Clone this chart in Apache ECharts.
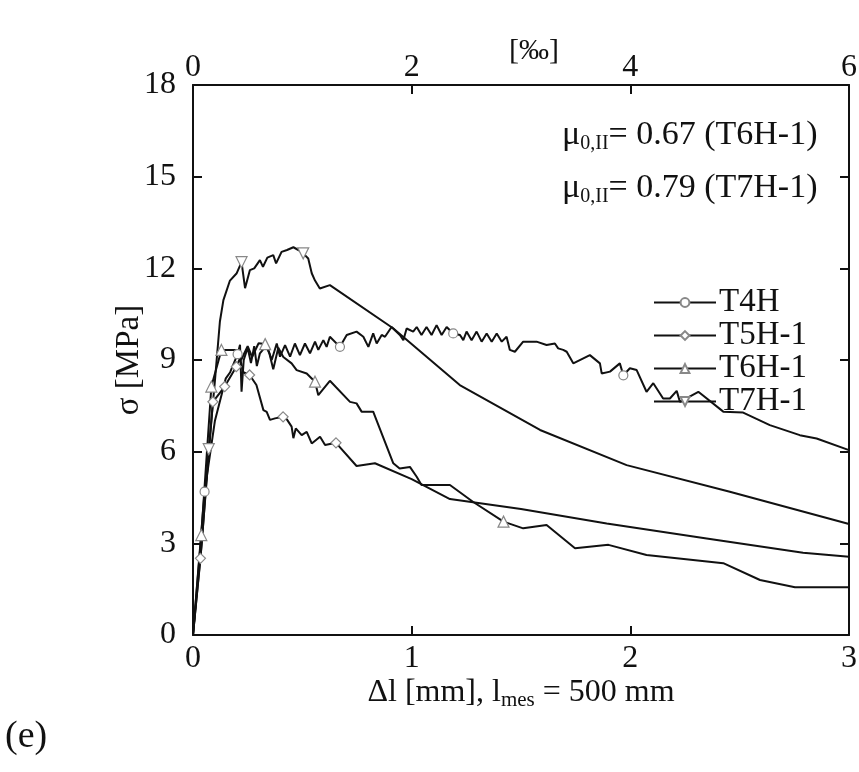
<!DOCTYPE html>
<html>
<head>
<meta charset="utf-8">
<script src="https://cdn.jsdelivr.net/npm/echarts@6/dist/echarts.min.js"></script>
<style>html,body{margin:0;padding:0;background:#fff}#c{width:859px;height:772px}</style>
</head>
<body>
<div id="c"></div>
<script>
// ---- data (Δl [mm], σ [MPa]) ----
const seriesNames = ['T4H', 'T5H-1', 'T6H-1', 'T7H-1'];
const xTicksBottom = [0, 1, 2, 3];
const xTicksTop = [0, 2, 4, 6];
const yTicks = [0, 3, 6, 9, 12, 15, 18];

const t4hX = [0, 0.053, 0.10, 0.15, 0.17, 0.204, 0.215, 0.222, 0.232, 0.25,
  0.265, 0.28, 0.292, 0.306, 0.337, 0.36, 0.383, 0.398, 0.421, 0.444,
  0.466, 0.489, 0.512, 0.535, 0.558, 0.573, 0.596, 0.611, 0.626, 0.672,
  0.703, 0.748, 0.779, 0.802, 0.824, 0.84, 0.863, 0.878, 0.908, 0.946,
  0.962, 0.977, 1.007, 1.023, 1.045, 1.068, 1.091, 1.114, 1.137, 1.16,
  1.19, 1.221, 1.236, 1.251, 1.274, 1.297, 1.32, 1.343, 1.366, 1.389,
  1.412, 1.434, 1.449, 1.472, 1.51, 1.571, 1.617, 1.655, 1.67, 1.693,
  1.709, 1.739, 1.815, 1.861, 1.869, 1.907, 1.952, 1.968, 1.998, 2.029,
  2.074, 2.105, 2.15, 2.181, 2.212, 2.227, 2.311, 2.425, 2.516, 2.638,
  2.775, 2.852, 3.0];
const t4hY = [0, 4.69, 7.0, 8.4, 8.6, 9.19, 9.5, 7.96, 9.0, 9.4,
  8.9, 9.45, 8.8, 9.22, 9.49, 9.0, 9.54, 9.11, 9.49, 9.11,
  9.54, 9.16, 9.54, 9.22, 9.6, 9.33, 9.65, 9.43, 9.76, 9.43,
  9.82, 9.93, 9.76, 9.43, 9.87, 9.54, 9.82, 9.76, 10.08, 9.82,
  9.65, 10.03, 9.93, 10.08, 9.82, 10.08, 9.82, 10.14, 9.82, 10.08,
  9.87, 9.82, 9.65, 9.93, 9.65, 9.93, 9.6, 9.87, 9.6, 9.87,
  9.6, 9.76, 9.33, 9.27, 9.6, 9.6, 9.49, 9.54, 9.38, 9.33,
  9.27, 8.89, 9.16, 8.89, 8.56, 8.62, 8.89, 8.5, 8.73, 8.67,
  7.96, 8.24, 7.74, 7.74, 7.99, 7.63, 7.96, 7.31, 7.28, 6.87,
  6.54, 6.43, 6.05];
const t4hMarkX = [0.053, 0.204, 0.672, 1.19, 1.968];

const t5hX = [0, 0.034, 0.091, 0.145, 0.198, 0.215, 0.23, 0.259, 0.29, 0.322,
  0.337, 0.352, 0.375, 0.412, 0.43, 0.451, 0.459, 0.47, 0.497, 0.52,
  0.543, 0.581, 0.604, 0.654, 0.748, 0.832, 1.0, 1.175, 1.5, 1.892,
  2.349, 2.79, 3.0];
const t5hY = [0, 2.51, 7.63, 8.13, 8.78, 9.05, 8.6, 8.51, 8.18, 7.36,
  7.3, 7.04, 7.09, 7.14, 7.05, 6.82, 6.44, 6.76, 6.54, 6.65,
  6.27, 6.49, 6.22, 6.29, 5.53, 5.62, 5.1, 4.45, 4.12, 3.65,
  3.16, 2.69, 2.56];
const t5hMarkX = [0.034, 0.091, 0.145, 0.198, 0.259, 0.412, 0.654];

const t6hX = [0, 0.038, 0.084, 0.13, 0.2, 0.22, 0.25, 0.27, 0.3, 0.33,
  0.35, 0.367, 0.39, 0.413, 0.451, 0.474, 0.52, 0.558, 0.573, 0.626,
  0.718, 0.748, 0.771, 0.824, 0.916, 0.945, 0.992, 1.023, 1.045, 1.175,
  1.28, 1.42, 1.51, 1.617, 1.747, 1.9, 2.074, 2.425, 2.593, 2.753, 3.0];
const t6hY = [0, 3.27, 8.13, 9.33, 9.33, 9.0, 9.45, 9.1, 9.55, 9.52,
  9.2, 8.7, 9.4, 9.1, 8.89, 8.67, 8.56, 8.29, 7.85, 8.32,
  7.63, 7.58, 7.31, 7.31, 5.62, 5.45, 5.5, 5.18, 4.91, 4.91,
  4.36, 3.71, 3.49, 3.6, 2.84, 2.95, 2.62, 2.35, 1.8, 1.56, 1.56];
const t6hMarkX = [0.038, 0.084, 0.13, 0.33, 0.558, 1.42];

const t7hX = [0, 0.04, 0.072, 0.1, 0.123, 0.139, 0.169, 0.2, 0.222, 0.238,
  0.26, 0.28, 0.306, 0.32, 0.34, 0.367, 0.38, 0.405, 0.43, 0.459,
  0.482, 0.504, 0.527, 0.543, 0.558, 0.58, 0.626, 0.915, 1.22, 1.587,
  1.983, 2.455, 3.0];
const t7hY = [0, 3.0, 6.08, 8.3, 10.26, 10.96, 11.6, 11.84, 12.2, 11.35,
  11.94, 12.0, 12.27, 12.05, 12.35, 12.43, 12.16, 12.54, 12.6, 12.69,
  12.6, 12.49, 12.32, 11.84, 11.6, 11.34, 11.45, 10.04, 8.18, 6.71,
  5.56, 4.69, 3.63];
const t7hMarkX = [0.072, 0.222, 0.504];

// ---- build ----
const FONT = '"Liberation Serif", "DejaVu Serif", serif';
const INK = '#111';
function pts(xs, ys, marks) {
  return xs.map((x, i) => marks.includes(x) ? [x, ys[i]] : { value: [x, ys[i]], symbol: 'none' });
}
function mkSeries(name, xs, ys, marks, symbol, rot, size) {
  return {
    name, type: 'line', xAxisIndex: 0, yAxisIndex: 0,
    data: pts(xs, ys, marks),
    symbol, symbolRotate: rot, symbolSize: size,
    showSymbol: true, showAllSymbol: true,
    lineStyle: { color: INK, width: 2 },
    itemStyle: { color: '#fff', borderColor: '#888', borderWidth: 1.2 },
    animation: false, z: 2
  };
}
function axisCommon() {
  return {
    nameMoveOverlap: false,
    axisLine: { show: true, onZero: false, lineStyle: { color: INK, width: 2 } },
    axisTick: { show: true, inside: true, length: 9, lineStyle: { color: INK, width: 2 } },
    splitLine: { show: false }
  };
}
const subRich = (main, sub, pad) => ({
  m: { fontFamily: FONT, fontSize: main, color: INK, fill: INK, lineHeight: main + 2, verticalAlign: 'top' },
  s: { fontFamily: FONT, fontSize: sub, color: INK, fill: INK, lineHeight: sub + 2, padding: [pad, 0, 0, 0], verticalAlign: 'bottom' }
});
const chart = echarts.init(document.getElementById('c'), null, { renderer: 'canvas' });
chart.setOption({
  backgroundColor: '#fff',
  animation: false,
  grid: { left: 193, right: 10, top: 85, bottom: 137, containLabel: false, outerBoundsMode: 'none' },
  xAxis: [
    Object.assign(axisCommon(), {
      type: 'value', position: 'bottom', min: xTicksBottom[0], max: xTicksBottom[xTicksBottom.length - 1], interval: 1,
      axisLabel: { fontFamily: FONT, fontSize: 32, color: INK, margin: 8 },
      name: '{m|Δl [mm], l}{s|mes}{m| = 500 mm}', nameLocation: 'middle', nameGap: 42,
      nameTextStyle: { rich: subRich(32, 21, 27) }
    }),
    Object.assign(axisCommon(), {
      type: 'value', position: 'top', min: xTicksTop[0], max: xTicksTop[xTicksTop.length - 1], interval: 2,
      axisLabel: { fontFamily: FONT, fontSize: 32, color: INK, margin: 1 },
      name: '[‰]', nameLocation: 'middle', nameGap: 19,
      nameTextStyle: { fontFamily: FONT, fontSize: 30, color: INK, padding: [0, 0, 0, 26] }
    })
  ],
  yAxis: [
    Object.assign(axisCommon(), {
      type: 'value', position: 'left', min: yTicks[0], max: yTicks[yTicks.length - 1], interval: 3,
      axisLabel: { fontFamily: FONT, fontSize: 32, color: INK, margin: 17 },
      name: 'σ [MPa]', nameLocation: 'middle', nameGap: 47, nameRotate: 90,
      nameTextStyle: { fontFamily: FONT, fontSize: 33, color: INK }
    }),
    Object.assign(axisCommon(), {
      type: 'value', position: 'right', min: yTicks[0], max: yTicks[yTicks.length - 1], interval: 3,
      axisLabel: { show: false }
    })
  ],
  legend: {
    orient: 'vertical', left: 648, top: 281,
    itemWidth: 62, itemHeight: 11, itemGap: 0,
    data: seriesNames,
    textStyle: { fontFamily: FONT, fontSize: 33, color: INK, lineHeight: 31, padding: [0, 0, 0, -2] },
    selectedMode: false
  },
  graphic: [
    {
      type: 'text', left: 562, top: 104,
      style: { text: '{m|μ}{s|0,II}{m|= 0.67 (T6H-1)}', rich: subRich(34, 20, 30) }
    },
    {
      type: 'text', left: 562, top: 157,
      style: { text: '{m|μ}{s|0,II}{m|= 0.79 (T7H-1)}', rich: subRich(34, 20, 30) }
    },
    {
      type: 'text', left: 5, top: 718,
      style: { text: '(e)', fontFamily: FONT, fontSize: 38, fill: INK }
    }
  ],
  series: [
    mkSeries(seriesNames[0], t4hX, t4hY, t4hMarkX, 'circle', 0, 9),
    mkSeries(seriesNames[1], t5hX, t5hY, t5hMarkX, 'diamond', 0, 10),
    mkSeries(seriesNames[2], t6hX, t6hY, t6hMarkX, 'triangle', 0, 11),
    mkSeries(seriesNames[3], t7hX, t7hY, t7hMarkX, 'triangle', 180, 11)
  ]
});
</script>
</body>
</html>
